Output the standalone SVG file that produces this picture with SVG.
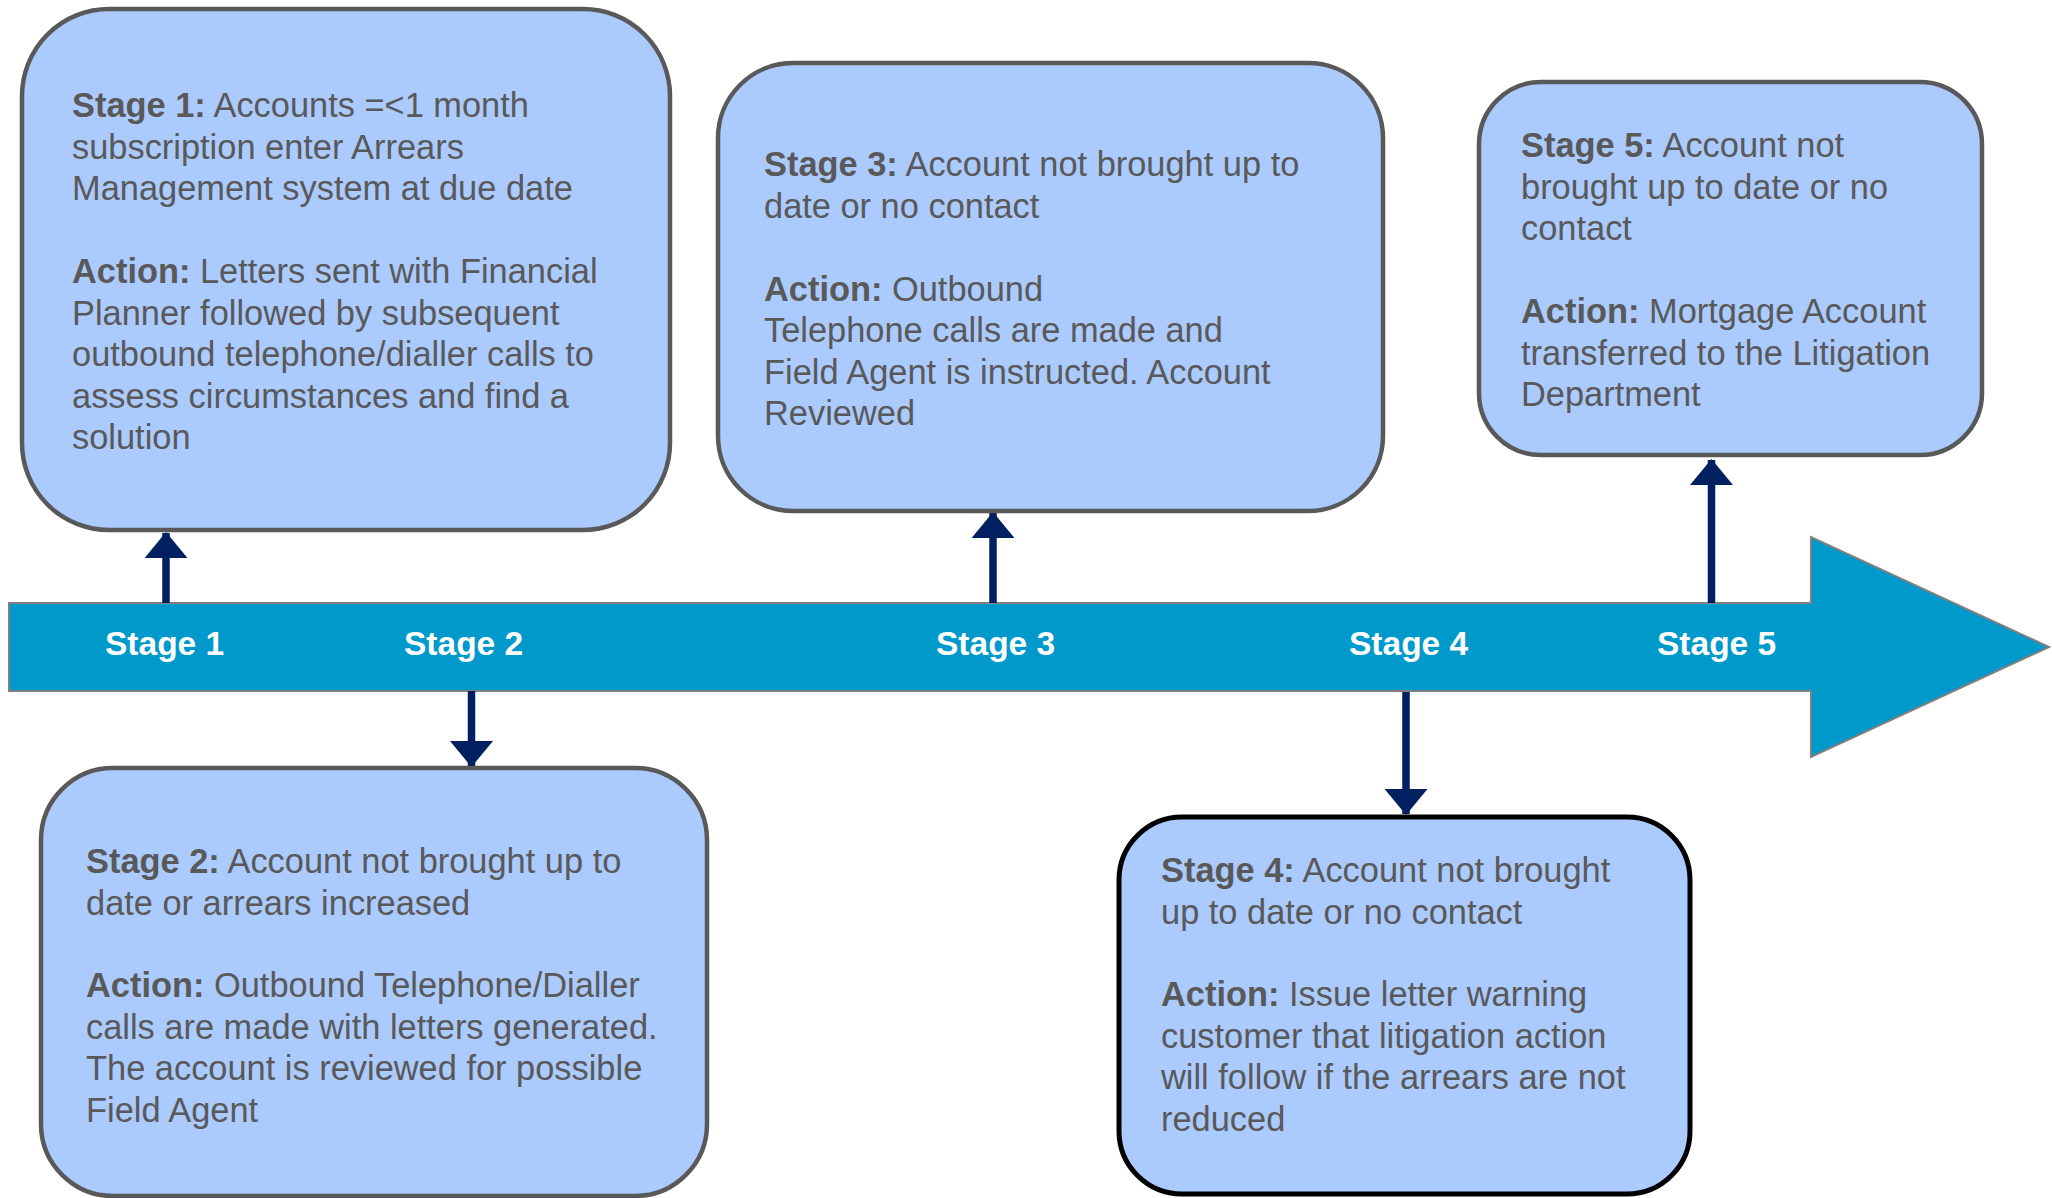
<svg xmlns="http://www.w3.org/2000/svg" width="2052" height="1198" viewBox="0 0 2052 1198">
  <defs>
    <style>
      .box { fill: #ABCAFE; stroke: #595959; stroke-width: 4.5; }
      .box-dark { fill: #ABCAFE; stroke: #000000; stroke-width: 5; }
      .txt { font-family: "Liberation Sans", Arial, sans-serif; font-size: 34.4px; fill: #595959; }
      .b { font-weight: bold; }
      .lbl { font-family: "Liberation Sans", Arial, sans-serif; font-size: 33.5px; font-weight: bold; fill: #FFFFFF; }
      .link { stroke: #002060; stroke-width: 7.5; fill: none; }
      .timeline { fill: #0099CC; stroke: #7F7F7F; stroke-width: 2; }
    </style>
    <marker id="head" markerUnits="userSpaceOnUse" markerWidth="26" markerHeight="43" refX="25" refY="21.5" orient="auto" viewBox="0 0 26 43">
      <path d="M0,0 L26,21.5 L0,43 Z" fill="#002060"/>
    </marker>
  </defs>

  <!-- timeline arrow -->
  <g id="timeline">
    <polygon class="timeline" points="9,603 1811,603 1811,537 2049,647 1811,757 1811,691 9,691"/>
    <text class="lbl" x="105" y="655">Stage 1</text>
    <text class="lbl" x="404" y="655">Stage 2</text>
    <text class="lbl" x="936" y="655">Stage 3</text>
    <text class="lbl" x="1349" y="655">Stage 4</text>
    <text class="lbl" x="1657" y="655">Stage 5</text>
  </g>

  <!-- connectors from the timeline to each stage box -->
  <g id="connectors">
    <line class="link" x1="166" y1="603" x2="166" y2="533" marker-end="url(#head)"/>
    <line class="link" x1="993" y1="603" x2="993" y2="513" marker-end="url(#head)"/>
    <line class="link" x1="1711.5" y1="603" x2="1711.5" y2="460" marker-end="url(#head)"/>
    <line class="link" x1="471.5" y1="691" x2="471.5" y2="766" marker-end="url(#head)"/>
    <line class="link" x1="1406" y1="692" x2="1406" y2="814" marker-end="url(#head)"/>
  </g>

  <!-- stage 1 -->
  <g id="stage1">
    <rect class="box" x="22" y="9" width="648" height="521" rx="87" ry="87"/>
    <text class="txt">
      <tspan x="72" y="117"><tspan class="b">Stage 1:</tspan> Accounts =&lt;1 month</tspan>
      <tspan x="72" y="158.5">subscription enter Arrears</tspan>
      <tspan x="72" y="200">Management system at due date</tspan>
      <tspan x="72" y="283"><tspan class="b">Action:</tspan> Letters sent with Financial</tspan>
      <tspan x="72" y="324.5">Planner followed by subsequent</tspan>
      <tspan x="72" y="366">outbound telephone/dialler calls to</tspan>
      <tspan x="72" y="407.5">assess circumstances and find a</tspan>
      <tspan x="72" y="449">solution</tspan>
    </text>
  </g>

  <!-- stage 2 -->
  <g id="stage2">
    <rect class="box" x="41" y="768" width="666" height="428" rx="72" ry="72"/>
    <text class="txt">
      <tspan x="86" y="873"><tspan class="b">Stage 2:</tspan> Account not brought up to</tspan>
      <tspan x="86" y="914.5">date or arrears increased</tspan>
      <tspan x="86" y="997"><tspan class="b">Action:</tspan> Outbound Telephone/Dialler</tspan>
      <tspan x="86" y="1038.5">calls are made with letters generated.</tspan>
      <tspan x="86" y="1080">The account is reviewed for possible</tspan>
      <tspan x="86" y="1121.5">Field Agent</tspan>
    </text>
  </g>

  <!-- stage 3 -->
  <g id="stage3">
    <rect class="box" x="718" y="63" width="665" height="448" rx="75" ry="75"/>
    <text class="txt">
      <tspan x="764" y="176"><tspan class="b">Stage 3:</tspan> Account not brought up to</tspan>
      <tspan x="764" y="217.5">date or no contact</tspan>
      <tspan x="764" y="300.5"><tspan class="b">Action:</tspan> Outbound</tspan>
      <tspan x="764" y="342">Telephone calls are made and</tspan>
      <tspan x="764" y="383.5">Field Agent is instructed. Account</tspan>
      <tspan x="764" y="425">Reviewed</tspan>
    </text>
  </g>

  <!-- stage 4 -->
  <g id="stage4">
    <rect class="box-dark" x="1119" y="817" width="571" height="377" rx="63" ry="63"/>
    <text class="txt">
      <tspan x="1161" y="882"><tspan class="b">Stage 4:</tspan> Account not brought</tspan>
      <tspan x="1161" y="923.5">up to date or no contact</tspan>
      <tspan x="1161" y="1006"><tspan class="b">Action:</tspan> Issue letter warning</tspan>
      <tspan x="1161" y="1047.5">customer that litigation action</tspan>
      <tspan x="1161" y="1089">will follow if the arrears are not</tspan>
      <tspan x="1161" y="1130.5">reduced</tspan>
    </text>
  </g>

  <!-- stage 5 -->
  <g id="stage5">
    <rect class="box" x="1479" y="82" width="503" height="373" rx="62" ry="62"/>
    <text class="txt">
      <tspan x="1521" y="157"><tspan class="b">Stage 5:</tspan> Account not</tspan>
      <tspan x="1521" y="198.5">brought up to date or no</tspan>
      <tspan x="1521" y="240">contact</tspan>
      <tspan x="1521" y="323"><tspan class="b">Action:</tspan> Mortgage Account</tspan>
      <tspan x="1521" y="364.5">transferred to the Litigation</tspan>
      <tspan x="1521" y="406">Department</tspan>
    </text>
  </g>
</svg>
